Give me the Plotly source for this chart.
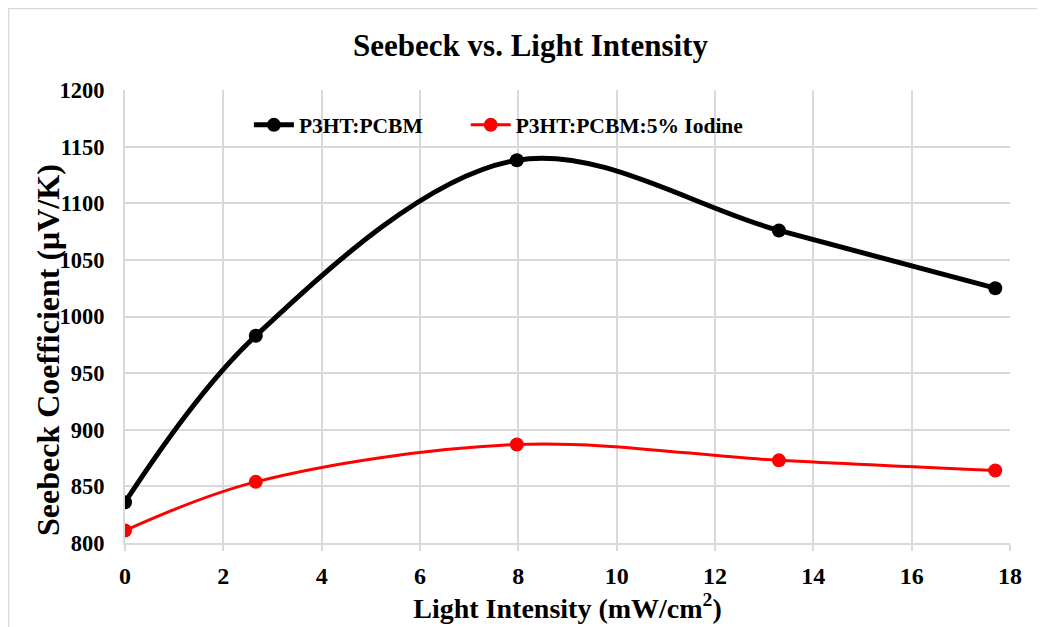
import plotly.graph_objects as go

x_vals = [0, 2.66, 7.97, 13.3, 17.7]
black_vals = [836, 983, 1138, 1076, 1025]
red_vals = [811, 854, 887, 873, 864]
names = ["P3HT:PCBM", "P3HT:PCBM:5% Iodine"]

FONT = "Liberation Serif"

fig = go.Figure()
fig.add_trace(go.Scatter(x=x_vals, y=black_vals, name="<b>" + names[0] + "</b>", mode="lines+markers",
                         line=dict(color="black", width=5, shape="spline", smoothing=1),
                         marker=dict(color="black", size=14), legend="legend"))
fig.add_trace(go.Scatter(x=x_vals, y=red_vals, name="<b>" + names[1] + "</b>", mode="lines+markers",
                         line=dict(color="#ff0000", width=3, shape="spline", smoothing=1),
                         marker=dict(color="#ff0000", size=14), legend="legend2"))

leg_common = dict(orientation="h", y=0.923, xanchor="left", yanchor="middle",
                  bgcolor="rgba(0,0,0,0)", font=dict(family=FONT, size=21.5, color="black"),
                  itemwidth=40)

fig.update_layout(
    width=1045, height=627,
    margin=dict(l=117, r=43, t=82, b=92),
    paper_bgcolor="white", plot_bgcolor="white",
    font=dict(family=FONT, color="black", size=22),
    title=dict(text="<b>Seebeck vs. Light Intensity</b>", x=0.5, xanchor="center", xref="container",
               y=0.941, yanchor="middle", yref="container", font=dict(family=FONT, size=31, color="black")),
    showlegend=True,
    legend=dict(x=0.14, **leg_common),
    legend2=dict(x=0.385, **leg_common),
    shapes=[dict(type="rect", xref="paper", yref="paper", x0=-0.1316, x1=1.2, y0=-0.4, y1=1.18,
                 line=dict(color="#d9d9d9", width=1.5), layer="below")],
    annotations=[dict(text="<b>Seebeck Coefficient (μV/K)</b>", textangle=-90, xref="paper", yref="paper",
                      x=-0.087, y=0.426, xanchor="center", yanchor="middle", showarrow=False,
                      font=dict(family=FONT, size=32, color="black"))],
)
fig.update_xaxes(range=[0, 18], dtick=2, tick0=0, showgrid=True, gridcolor="#d9d9d9", gridwidth=2,
                 showline=True, linecolor="#d9d9d9", linewidth=2, zeroline=False, automargin=False,
                 ticks="outside", tickcolor="#d9d9d9", ticklen=6, tickwidth=2, ticklabelstandoff=4,
                 tickfont=dict(family=FONT, size=24, color="black"), tickprefix="<b>", ticksuffix="</b>",
                 title=dict(text="<b>Light Intensity (mW/cm<sup>2</sup>)</b>", standoff=4,
                            font=dict(family=FONT, size=28, color="black")))
fig.update_yaxes(range=[800, 1200], dtick=50, showgrid=True, gridcolor="#d9d9d9", gridwidth=2,
                 showline=True, linecolor="#d9d9d9", linewidth=2, zeroline=False, mirror=False,
                 automargin=False, ticklabelstandoff=14,
                 tickfont=dict(family=FONT, size=22.5, color="black"), tickprefix="<b>", ticksuffix="</b>",
                 ticks="")
fig.write_html("out.html")
